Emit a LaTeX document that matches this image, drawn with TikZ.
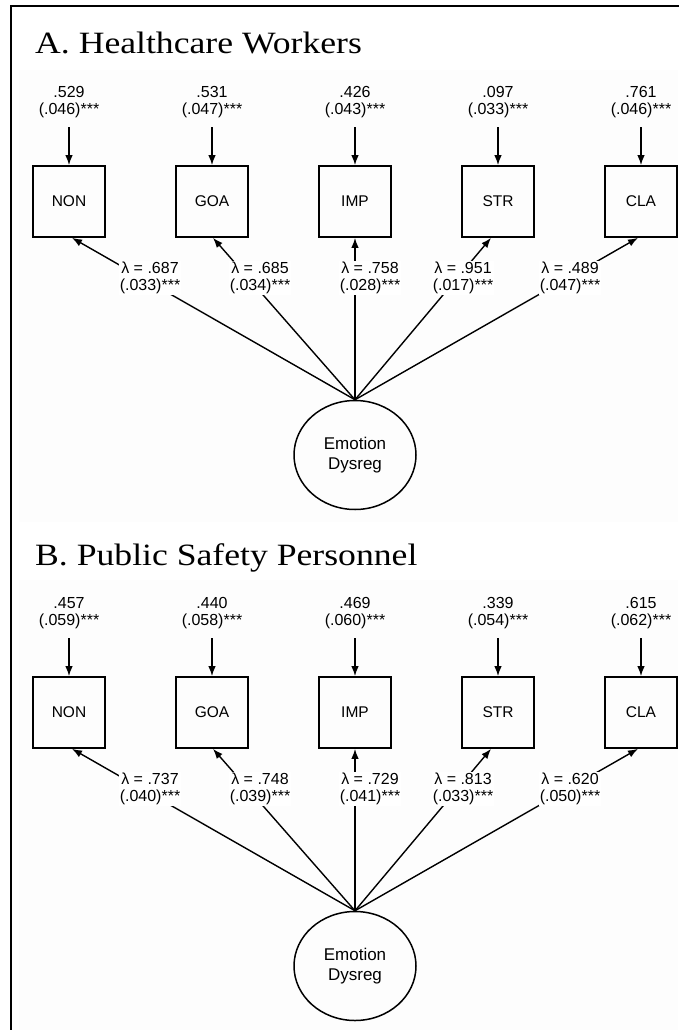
\documentclass[tikz,border=0pt]{standalone}
\usepackage{fontspec}
\setmainfont{Liberation Serif}
\newfontfamily\arialf{Liberation Sans}
\usetikzlibrary{shapes.geometric,arrows.meta}

% One measurement-model panel: #1 = name prefix, #2 = indicator data
% indicator/x/residual/resid.se/loading/load.se/label x/arrow x-offset
\newcommand\drawpanel[2]{%
  \node[lat] (#1-ED) at (355,455) {Emotion\\Dysreg};
  \foreach \n/\x/\r/\rs/\l/\ls/\lx/\dx in {#2} {
    \node[obs] (#1-\n) at (\x,201.5) {\n};
    \node[est] (#1-\n-r) at (\x,102) {\r\\(\rs)***};
    \draw[arr, shorten <=8pt] (#1-\n-r.south) -- (#1-\n.north);
    \draw[arr] (#1-ED.north) -- ([xshift=\dx pt]#1-\n.south);
  }
  \foreach \n/\x/\r/\rs/\l/\ls/\lx/\dx in {#2} {
    \node[load] at (\lx,278) {λ = \l\\(\ls)***};
  }
}

\begin{document}
\begin{tikzpicture}[x=1pt,y=-1pt,
  obs/.style={draw, line width=1.7pt, minimum width=72pt, minimum height=71pt,
    inner sep=0pt, font=\arialf\fontsize{15.5}{17}\selectfont},
  lat/.style={draw, ellipse, line width=1.5pt, minimum width=122pt,
    minimum height=109pt, inner sep=0pt, align=center,
    font=\arialf\fontsize{17}{20}\selectfont},
  est/.style={align=center, font=\arialf\fontsize{16}{17.5}\selectfont, inner sep=1pt},
  load/.style={est, fill=white},
  arr/.style={line width=1.4pt, -{Latex[length=10pt,width=7.5pt]}},
  ttl/.style={anchor=base west, font=\fontsize{31}{36}\selectfont, inner sep=0pt},
]
\useasboundingbox (0,0) rectangle (678,1030);
\fill[white] (0,0) rectangle (678,1030);

% faint panel backgrounds
\fill[gray!1.5] (19,70) rectangle (678,522);
\fill[gray!1.5] (19,580) rectangle (678,1030);

% frame
\draw[line width=2.4pt] (11,1034) -- (11,6) -- (682,6);

% titles
\node[ttl] (titleA) at (35,54) {\scalebox{1.15}[1]{A. Healthcare Workers}};
\node[ttl] (titleB) at (35,565) {\scalebox{1.15}[1]{B. Public Safety Personnel}};

% panel A
\drawpanel{A}{NON/69/.529/.046/.687/.033/150/3,
  GOA/212/.531/.047/.685/.034/260/1,
  IMP/355/.426/.043/.758/.028/370/0,
  STR/498/.097/.033/.951/.017/463/-7,
  CLA/641/.761/.046/.489/.047/570/-3}

% panel B
\begin{scope}[yshift=-511pt]
\drawpanel{B}{NON/69/.457/.059/.737/.040/150/3,
  GOA/212/.440/.058/.748/.039/260/1,
  IMP/355/.469/.060/.729/.041/370/0,
  STR/498/.339/.054/.813/.033/463/-7,
  CLA/641/.615/.062/.620/.050/570/-3}
\end{scope}
\end{tikzpicture}
\end{document}
